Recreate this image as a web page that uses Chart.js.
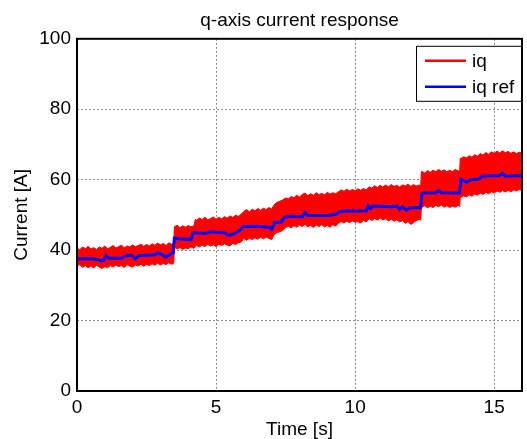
<!DOCTYPE html>
<html>
<head>
<meta charset="utf-8">
<script src="https://cdn.jsdelivr.net/npm/chart.js@4.4.1/dist/chart.umd.min.js"></script>
<style>
  html, body { margin: 0; padding: 0; background: #fff; }
  #wrap { width: 527px; height: 439px; position: relative; }
</style>
</head>
<body>
<div id="wrap"><canvas id="c" width="527" height="439"></canvas></div>
<script>
// ---- data ----
const chartTitle = 'q-axis current response';
const xTitle = 'Time [s]';
const yTitle = 'Current [A]';
const xTicks = [0, 5, 10, 15];
const yTicks = [0, 20, 40, 60, 80, 100];

// iq (noisy measured current) drawn as its max/min envelope
const envTime = [0,0.1,0.2,0.3,0.4,0.5,0.6,0.7,0.8,0.9,1.0,1.1,1.2,1.3,1.4,1.5,1.6,1.7,1.8,1.9,2.0,2.1,2.2,2.3,2.4,2.5,2.6,2.7,2.8,2.9,3.0,3.1,3.2,3.3,3.4,
  3.48,
  3.5,3.6,3.7,3.8,3.9,4.0,4.1,4.2,
  4.26,
  4.3,4.4,4.5,4.6,4.7,4.8,4.9,5.0,5.1,5.2,5.3,5.4,5.5,5.6,5.7,5.8,5.9,
  6.0,6.1,6.2,6.3,6.4,6.5,6.6,6.7,6.8,6.9,7.0,
  7.1,7.2,7.3,7.4,7.5,
  7.6,7.7,7.8,7.9,8.0,8.1,8.2,8.3,8.4,8.5,8.6,8.7,8.8,8.9,9.0,9.1,9.2,9.3,
  9.4,9.5,9.6,9.7,9.8,9.9,10.0,10.1,10.2,10.3,10.4,
  10.5,10.6,10.7,10.8,10.9,11.0,11.1,11.2,11.3,11.4,11.5,11.6,11.7,11.8,11.9,12.0,12.1,12.2,12.3,
  12.36,12.38,
  12.4,12.5,12.6,12.7,12.8,12.9,13.0,13.1,13.2,13.3,13.4,13.5,13.6,13.7,
  13.76,13.78,
  13.8,13.9,14.0,14.1,14.2,14.3,14.4,14.5,14.6,14.7,14.8,14.9,15.0,15.1,15.2,15.3,15.4,15.5,15.6,15.7,15.8,15.9,16.0];
const iqUpper = [40.6,40.1,40.9,40.4,41.1,40.3,40.7,40.2,40.9,40.5,41.2,40.4,40.8,41.3,40.6,41.0,41.4,40.7,41.2,40.9,41.5,41.0,41.3,41.7,41.1,41.6,41.2,41.8,41.4,42.0,41.5,41.9,41.3,42.1,41.7,
  42.0,
  46.6,47.1,46.4,46.9,46.5,47.0,46.6,46.9,
  48.8,
  48.5,49.1,48.7,49.3,48.6,49.0,49.4,48.8,49.3,48.9,49.5,49.1,49.7,49.3,49.9,49.6,50.2,
  51.0,51.5,50.9,51.6,51.2,51.8,51.3,51.9,51.5,52.1,51.7,
  53.0,53.6,53.9,54.3,54.8,
  54.6,55.2,54.9,55.6,55.1,55.8,56.2,55.5,56.0,55.6,56.3,55.8,56.1,55.7,56.4,55.9,56.3,56.0,
  56.6,57.1,56.7,57.3,56.8,57.2,56.9,57.4,57.0,57.5,57.1,
  58.0,57.6,58.3,57.8,58.4,57.9,58.5,58.0,58.6,58.1,58.4,57.9,58.5,58.2,58.7,58.1,58.6,58.2,58.5,
  58.3,62.2,
  62.4,61.9,62.6,62.1,62.7,62.3,62.9,62.4,62.8,62.2,62.7,62.3,62.9,62.5,
  62.6,66.1,
  66.0,66.5,66.2,66.8,66.4,67.1,66.7,67.4,67.0,67.7,67.2,67.9,67.5,68.1,67.6,68.2,67.7,68.0,67.5,67.9,67.4,67.8,67.5];
const iqLower = [35.4,35.9,35.1,35.6,35.0,35.5,34.9,35.7,35.2,34.8,35.3,35.0,35.6,35.2,35.8,35.3,35.6,35.1,35.9,35.4,35.2,35.8,35.5,36.0,35.4,35.9,35.6,36.1,35.7,36.3,35.8,36.2,35.9,36.4,36.0,
  36.3,
  40.8,40.3,40.7,40.2,40.6,40.4,40.9,40.5,
  41.0,
  41.3,40.9,41.4,41.0,41.6,41.2,41.5,41.0,41.7,41.3,41.8,41.4,41.2,41.9,41.6,42.1,42.3,
  43.3,42.8,43.4,43.0,43.5,43.1,43.6,43.2,43.7,43.3,43.0,
  44.5,45.0,45.2,45.6,46.4,
  46.8,46.3,46.9,46.5,47.1,46.7,47.3,46.6,47.0,46.4,47.1,46.7,47.2,46.6,47.0,46.5,47.2,46.8,
  47.6,48.1,47.7,48.2,47.8,48.3,47.9,48.1,47.7,48.4,48.0,
  48.9,48.4,49.0,48.5,49.1,48.6,48.9,48.3,48.8,48.2,48.6,48.0,48.4,47.6,48.1,47.3,47.8,48.4,48.7,
  48.6,51.9,
  52.2,52.6,52.0,52.5,52.1,52.7,52.3,52.8,52.2,52.6,52.1,52.5,52.2,52.7,
  52.4,55.2,
  55.0,55.4,55.1,55.7,55.3,55.9,55.6,56.2,55.8,56.4,56.0,56.6,56.2,56.8,56.4,56.9,56.5,57.0,56.6,57.1,56.8,57.2,56.9];

// iq ref (staircase reference)
const refTime = [0,0.5,0.8,0.95,1.05,1.15,1.6,1.7,1.95,2.1,2.25,2.8,2.9,3.05,3.2,3.38,3.46,3.5,3.7,4.1,4.18,
  4.6,4.8,5.3,5.45,5.6,5.85,5.97,6.5,6.9,7.0,7.1,7.35,7.45,7.7,8.1,8.2,8.3,9.0,9.3,9.45,9.7,10.0,10.4,10.47,10.55,10.65,
  11.3,11.5,11.6,11.7,11.84,11.95,12.35,12.4,12.9,13.0,13.1,13.75,13.8,14.0,14.15,14.45,14.55,15.2,15.3,15.4,16.0];
const refValue = [37.5,37.6,37.2,37.0,38.5,37.7,37.7,38.3,38.6,37.6,38.5,38.7,39.2,38.8,38.0,39.0,39.3,43.4,43.2,43.0,45.0,
  44.7,45.2,44.9,44.2,44.5,45.6,46.7,46.8,46.5,45.9,47.9,48.0,49.3,49.6,49.5,50.7,49.8,49.8,50.2,50.9,51.2,51.1,51.2,52.6,51.8,52.5,
  52.3,52.5,51.6,52.3,51.3,52.0,52.0,56.2,56.3,56.9,56.3,56.2,60.1,59.3,60.0,60.2,61.0,61.2,61.8,61.0,61.2];

const seriesNames = ['iq', 'iq ref'];
const seriesColors = ['#ff0000', '#0000ff'];

// ---- chart ----
const FONT = "'Liberation Sans', Arial, sans-serif";
const toXY = (xs, ys) => xs.map((x, i) => ({ x: x, y: ys[i] }));

const framePlugin = {
  id: 'frame',
  afterDatasetsDraw(chart) {
    const { ctx, chartArea: a } = chart;
    ctx.save();
    ctx.strokeStyle = '#000';
    ctx.lineWidth = 2;
    ctx.strokeRect(a.left, a.top, a.right - a.left, a.bottom - a.top);
    ctx.restore();
  },
  afterDraw(chart) {
    // MATLAB-style legend box inside the axes, top-right
    const { ctx, chartArea: a } = chart;
    const boxW = 106, boxH = 56;
    const x0 = a.right - boxW, y0 = a.top + 7;
    ctx.save();
    ctx.fillStyle = '#fff';
    ctx.fillRect(x0, y0, boxW, boxH);
    ctx.strokeStyle = '#000';
    ctx.lineWidth = 1;
    ctx.strokeRect(x0 + 0.5, y0 + 0.5, boxW - 1, boxH - 1);
    ctx.font = '19px ' + FONT;
    ctx.textBaseline = 'middle';
    ctx.fillStyle = '#000';
    seriesNames.forEach((name, i) => {
      const yy = y0 + 15 + i * 26;
      ctx.strokeStyle = seriesColors[i];
      ctx.lineWidth = 2.5;
      ctx.beginPath();
      ctx.moveTo(x0 + 9, yy);
      ctx.lineTo(x0 + 50, yy);
      ctx.stroke();
      ctx.fillText(name, x0 + 56, yy + 1);
    });
    ctx.restore();
  }
};

new Chart(document.getElementById('c'), {
  type: 'line',
  data: {
    datasets: [
      { label: seriesNames[0], data: toXY(envTime, iqUpper), borderColor: seriesColors[0],
        backgroundColor: seriesColors[0], borderWidth: 1, pointRadius: 0, fill: 1, order: 1, tension: 0 },
      { label: seriesNames[0] + ' min', data: toXY(envTime, iqLower), borderColor: seriesColors[0],
        backgroundColor: seriesColors[0], borderWidth: 1, pointRadius: 0, fill: false, order: 2, tension: 0 },
      { label: seriesNames[1], data: toXY(refTime, refValue), borderColor: seriesColors[1],
        borderWidth: 3, pointRadius: 0, fill: false, order: 0, tension: 0 }
    ]
  },
  options: {
    responsive: false,
    animation: false,
    layout: { padding: { left: 0, right: 5, top: 0, bottom: 0 } },
    plugins: {
      legend: { display: false },
      tooltip: { enabled: false },
      title: { display: true, text: chartTitle, color: '#000', fullSize: false,
        font: { family: FONT, size: 19, weight: 'normal', lineHeight: 1.2 },
        padding: { top: 9, bottom: 7 } }
    },
    scales: {
      x: {
        type: 'linear', min: 0, max: 16,
        afterBuildTicks: s => { s.ticks = xTicks.map(v => ({ value: v })); },
        afterFit: s => { s.height = 48; },
        ticks: { color: '#000', font: { family: FONT, size: 19 }, padding: 5, maxRotation: 0 },
        grid: { color: '#8c8c8c', lineWidth: 1, drawTicks: false },
        border: { display: false, dash: [2, 2] },
        title: { display: true, text: xTitle, color: '#000',
          font: { family: FONT, size: 19, lineHeight: 1 }, padding: { top: 0, bottom: 0 } }
      },
      y: {
        min: 0, max: 100,
        afterBuildTicks: s => { s.ticks = yTicks.map(v => ({ value: v })); },
        afterFit: s => { s.width = 77; },
        ticks: { color: '#000', font: { family: FONT, size: 19 }, padding: 6 },
        grid: { color: '#8c8c8c', lineWidth: 1, drawTicks: false },
        border: { display: false, dash: [2, 2] },
        title: { display: true, text: yTitle, color: '#000',
          font: { family: FONT, size: 19, lineHeight: 1 }, padding: { top: 12, bottom: 0 } }
      }
    }
  },
  plugins: [framePlugin]
});
</script>
</body>
</html>
